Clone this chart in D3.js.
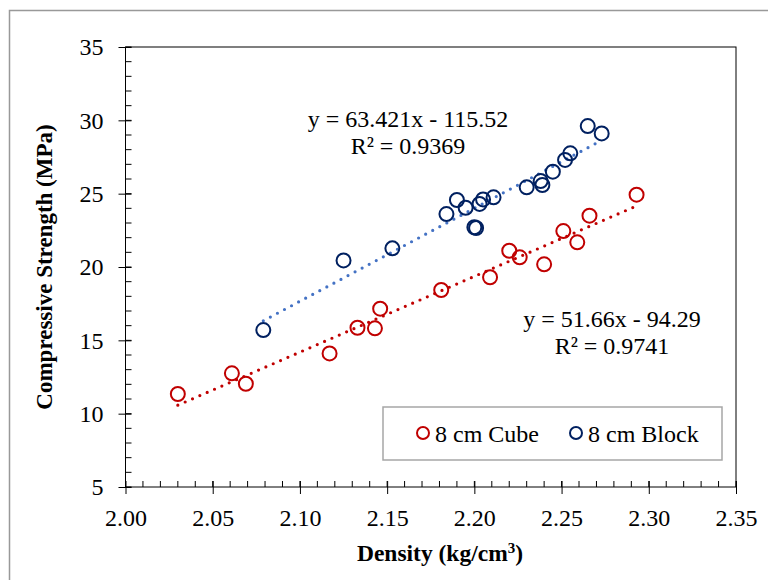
<!DOCTYPE html>
<html>
<head>
<meta charset="utf-8">
<script src="https://cdn.jsdelivr.net/npm/d3@7"></script>
<style>
body{margin:0;background:#fff}
text{font-family:"Liberation Serif","Times New Roman",serif;fill:#000}
</style>
</head>
<body>
<svg id="chart" width="768" height="580"></svg>
<script>
// values
var cubeDensity=[2.030,2.061,2.069,2.117,2.133,2.143,2.146,2.181,2.209,2.220,2.226,2.240,2.251,2.259,2.266,2.293];
var cubeStrength=[11.34,12.75,12.04,14.11,15.86,15.82,17.16,18.43,19.30,21.11,20.66,20.18,22.45,21.68,23.50,24.93];
var blockDensity=[2.079,2.125,2.153,2.184,2.190,2.195,2.203,2.205,2.211,2.200,2.201,2.230,2.238,2.239,2.245,2.252,2.255,2.265,2.273];
var blockStrength=[15.70,20.45,21.27,23.61,24.57,24.04,24.30,24.61,24.75,22.71,22.66,25.43,25.86,25.59,26.50,27.30,27.75,29.61,29.11];
var cubeFit=[51.66,-94.29], blockFit=[63.421,-115.52];
var cubeLabel=["y = 51.66x - 94.29","R² = 0.9741"];
var blockLabel=["y = 63.421x - 115.52","R² = 0.9369"];
var seriesNames=["8 cm Cube","8 cm Block"];
var xTicks=[2.00,2.05,2.10,2.15,2.20,2.25,2.30,2.35];
var yTicks=[5,10,15,20,25,30,35];

var RED="#C00000", NAVY="#002060", BLUE="#4472C4";
var L=125.5, R=736, T=47, B=487;
var FS=24;

var svg=d3.select("#chart");
var x=d3.scaleLinear().domain([2.00,2.35]).range([L,R]);
var y=d3.scaleLinear().domain([5,35]).range([B,T]);

// outer chart frame
svg.append("rect").attr("x",9.5).attr("y",10.5).attr("width",800).attr("height",600)
	.attr("fill","none").attr("stroke","#999").attr("stroke-width",1.5);

// plot border
svg.append("rect").attr("x",L).attr("y",T).attr("width",R-L).attr("height",B-T)
	.attr("fill","none").attr("stroke","#000").attr("stroke-width",1);

// minor ticks (inside)
var xMinor=d3.range(200,236).map(function(d){return d/100;});
var yMinor=d3.range(5,36);
svg.append("g").selectAll("line").data(xMinor).enter().append("line")
	.attr("x1",function(d){return x(d);}).attr("x2",function(d){return x(d);})
	.attr("y1",B).attr("y2",B-6).attr("stroke","#000");
svg.append("g").selectAll("line").data(yMinor).enter().append("line")
	.attr("y1",function(d){return y(d);}).attr("y2",function(d){return y(d);})
	.attr("x1",L).attr("x2",L+6).attr("stroke","#000");

// major axes
var xAxis=svg.append("g").attr("transform","translate("+0+","+B+")")
	.call(d3.axisBottom(x).tickValues(xTicks).tickSize(7).tickPadding(15).tickFormat(d3.format(".2f")));
var yAxis=svg.append("g").attr("transform","translate("+L+",0)")
	.call(d3.axisLeft(y).tickValues(yTicks).tickSize(7).tickPadding(15));
[xAxis,yAxis].forEach(function(a){
	a.attr("font-family",null).attr("font-size",null);
	a.select(".domain").remove();
	a.selectAll("line").attr("stroke","#000");
	a.selectAll("text").attr("font-size",FS).attr("fill","#000");
});
xAxis.selectAll("line").attr("y1",-6);
yAxis.selectAll("line").attr("x1",6);

// axis titles
svg.append("text").attr("x",440).attr("y",561).attr("text-anchor","middle")
	.attr("font-size",23.5).attr("font-weight","bold")
	.html('Density (kg/cm<tspan baseline-shift="super" font-size="15">3</tspan>)');
svg.append("text").attr("transform","translate(52,267) rotate(-90)").attr("text-anchor","middle")
	.attr("font-size",23).attr("font-weight","bold").text("Compressive Strength (MPa)");

// trendlines
function trend(xs,fit,col){
	var x0=d3.min(xs), x1=d3.max(xs);
	svg.append("line")
		.attr("x1",x(x0)).attr("y1",y(fit[0]*x0+fit[1]))
		.attr("x2",x(x1)).attr("y2",y(fit[0]*x1+fit[1]))
		.attr("stroke",col).attr("stroke-width",3.2)
		.attr("stroke-linecap","round").attr("stroke-dasharray","0 8");
}
trend(blockDensity,blockFit,BLUE);
trend(cubeDensity,cubeFit,RED);

// markers
function points(xs,ys,col){
	svg.append("g").selectAll("circle").data(xs).enter().append("circle")
		.attr("cx",function(d){return x(d);})
		.attr("cy",function(d,i){return y(ys[i]);})
		.attr("r",7).attr("fill","none").attr("stroke",col).attr("stroke-width",2);
}
points(cubeDensity,cubeStrength,RED);
points(blockDensity,blockStrength,NAVY);

// equation labels
function eqLabel(lines,cx,cy){
	svg.append("g").selectAll("text").data(lines).enter().append("text")
		.attr("x",cx).attr("y",function(d,i){return cy+i*27;})
		.attr("text-anchor","middle").attr("font-size",FS).text(function(d){return d;});
}
eqLabel(blockLabel,408,127);
eqLabel(cubeLabel,612,327);

// legend
svg.append("rect").attr("x",383).attr("y",407).attr("width",339).attr("height",53)
	.attr("fill","#fff").attr("stroke","#a6a6a6").attr("stroke-width",1.5);
var legCols=[RED,NAVY], legX=[423,576];
seriesNames.forEach(function(n,i){
	svg.append("circle").attr("cx",legX[i]).attr("cy",433).attr("r",6)
		.attr("fill","none").attr("stroke",legCols[i]).attr("stroke-width",2);
	svg.append("text").attr("x",legX[i]+12).attr("y",442).attr("font-size",FS).text(n);
});
</script>
</body>
</html>
